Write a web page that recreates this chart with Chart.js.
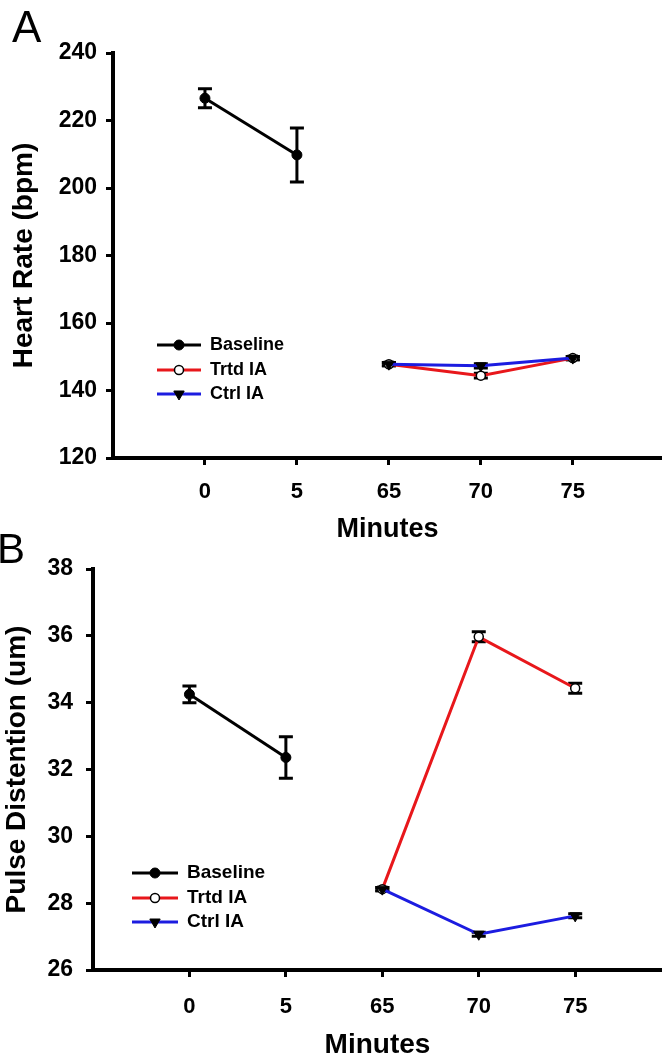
<!DOCTYPE html>
<html>
<head>
<meta charset="utf-8">
<script src="https://cdn.jsdelivr.net/npm/chart.js@4.4.1/dist/chart.umd.min.js"></script>
<style>
  body { margin: 0; background: #fff; width: 662px; height: 1057px; position: relative; overflow: hidden;
         font-family: "Liberation Sans", Arial, sans-serif; }
  canvas { position: absolute; left: 0; }
  .panel { position: absolute; font-size: 44px; line-height: 1; color: #000; }
</style>
</head>
<body>
<canvas id="hrChart" width="662" height="543" style="top:0"></canvas>
<canvas id="pdChart" width="662" height="519" style="top:540px"></canvas>
<div class="panel" style="left:12px;top:5px">A</div>
<div class="panel" style="left:-3px;top:528px;font-size:42px">B</div>
<script>
const minutes = ['0', '5', '65', '70', '75'];

// Panel A - heart rate (bpm)
const hrBaseline    = [226.6, 209.8, null, null, null];
const hrBaselineErr = [2.8, 8.0, null, null, null];
const hrTrtd        = [null, null, 147.8, 144.4, 149.6];
const hrTrtdErr     = [null, null, 0.5, 0.7, 0.5];
const hrCtrl        = [null, null, 147.8, 147.3, 149.6];
const hrCtrlErr     = [null, null, 0.5, 0.6, 0.5];

// Panel B - pulse distention (um)
const pdBaseline    = [34.25, 32.36, null, null, null];
const pdBaselineErr = [0.25, 0.62, null, null, null];
const pdTrtd        = [null, null, 28.42, 35.97, 34.43];
const pdTrtdErr     = [null, null, 0.05, 0.15, 0.15];
const pdCtrl        = [null, null, 28.42, 27.07, 27.62];
const pdCtrlErr     = [null, null, 0.05, 0.06, 0.06];

const FONT = '"Liberation Sans", Arial, sans-serif';
const RED = '#e8171b';
const BLUE = '#1c1ce0';

function toPoints(arr) {
    return arr.map((v, i) => ({ x: i, y: v })).filter(p => p.y !== null);
}

// error bars with caps, drawn under the markers
const errorBars = {
    id: 'errorBars',
    beforeDatasetsDraw(chart) {
        const ctx = chart.ctx;
        const y = chart.scales.y;
        ctx.save();
        ctx.strokeStyle = '#000';
        ctx.lineWidth = 3;
        chart.data.datasets.forEach((ds, i) => {
            const meta = chart.getDatasetMeta(i);
            ds.data.forEach((p, j) => {
                const err = ds.errors[p.x];
                if (!err) return;
                const px = meta.data[j].x;
                const top = y.getPixelForValue(p.y + err);
                const bot = y.getPixelForValue(p.y - err);
                ctx.beginPath();
                ctx.moveTo(px, top); ctx.lineTo(px, bot);
                ctx.moveTo(px - 7, top); ctx.lineTo(px + 7, top);
                ctx.moveTo(px - 7, bot); ctx.lineTo(px + 7, bot);
                ctx.stroke();
            });
        });
        ctx.restore();
    }
};

// legend: line with marker in the middle, then label
const lineLegend = {
    id: 'lineLegend',
    afterDraw(chart, args, opts) {
        const ctx = chart.ctx;
        ctx.save();
        ctx.font = 'bold ' + opts.size + 'px ' + FONT;
        ctx.textBaseline = 'middle';
        chart.data.datasets.forEach((ds, i) => {
            const y = opts.rows[i];
            ctx.strokeStyle = ds.borderColor;
            ctx.lineWidth = 3;
            ctx.beginPath();
            ctx.moveTo(opts.x1, y);
            ctx.lineTo(opts.x2, y);
            ctx.stroke();
            ctx.fillStyle = ds.pointBackgroundColor;
            ctx.strokeStyle = ds.pointBorderColor;
            ctx.lineWidth = ds.pointBorderWidth;
            Chart.helpers.drawPoint(ctx, {
                pointStyle: ds.pointStyle,
                radius: ds.pointRadius,
                rotation: ds.pointRotation,
                borderWidth: ds.pointBorderWidth
            }, (opts.x1 + opts.x2) / 2, y);
            ctx.fillStyle = '#000';
            ctx.fillText(ds.label, opts.textX, y);
        });
        ctx.restore();
    }
};

function makeDatasets(base, baseErr, trtd, trtdErr, ctrl, ctrlErr) {
    return [
        {
            label: 'Baseline', data: toPoints(base), errors: baseErr, order: 0,
            borderColor: '#000', borderWidth: 3,
            pointStyle: 'circle', pointRadius: 5, pointRotation: 0,
            pointBackgroundColor: '#000', pointBorderColor: '#000', pointBorderWidth: 1
        },
        {
            label: 'Trtd IA', data: toPoints(trtd), errors: trtdErr, order: 2,
            borderColor: RED, borderWidth: 3,
            pointStyle: 'circle', pointRadius: 4.5, pointRotation: 0,
            pointBackgroundColor: '#fff', pointBorderColor: '#000', pointBorderWidth: 1.5
        },
        {
            label: 'Ctrl IA', data: toPoints(ctrl), errors: ctrlErr, order: 1,
            borderColor: BLUE, borderWidth: 3,
            pointStyle: 'triangle', pointRadius: 6, pointRotation: 180,
            pointBackgroundColor: '#000', pointBorderColor: '#000', pointBorderWidth: 1
        }
    ];
}

function makeChart(id, datasets, p) {
    return new Chart(document.getElementById(id), {
        type: 'line',
        data: { datasets: datasets },
        plugins: [errorBars, lineLegend],
        options: {
            responsive: false,
            animation: false,
            layout: { autoPadding: false, padding: { top: p.top, left: 0, right: 0, bottom: 0 } },
            elements: { line: { tension: 0 } },
            scales: {
                x: {
                    type: 'linear',
                    min: -1,
                    max: p.xMax,
                    afterBuildTicks: s => { s.ticks = minutes.map((m, i) => ({ value: i })); },
                    afterFit: s => { s.height = p.xHeight; },
                    ticks: {
                        callback: v => minutes[v],
                        color: '#000',
                        font: { family: FONT, size: 22, weight: 'bold' },
                        padding: p.xPad,
                        autoSkip: false,
                        maxRotation: 0
                    },
                    grid: { drawOnChartArea: false, color: '#000', lineWidth: 3, tickLength: 7 },
                    border: { color: '#000', width: 4 },
                    title: {
                        display: true, text: 'Minutes', color: '#000',
                        font: { family: FONT, size: p.xTitleSize, weight: 'bold', lineHeight: 1 },
                        padding: { top: 0, bottom: 0 }
                    }
                },
                y: {
                    min: p.yMin,
                    max: p.yMax,
                    afterFit: s => { s.width = p.yWidth; },
                    ticks: {
                        stepSize: p.yStep,
                        color: '#000',
                        font: { family: FONT, size: 23, weight: 'bold' },
                        padding: p.yPad
                    },
                    grid: { drawOnChartArea: false, color: '#000', lineWidth: 3, tickLength: 7 },
                    border: { color: '#000', width: 4 },
                    title: {
                        display: true, text: p.yTitle, color: '#000',
                        font: { family: FONT, size: 28, weight: 'bold', lineHeight: 1 },
                        padding: { top: p.yTitlePad, bottom: 0 }
                    }
                }
            },
            plugins: {
                legend: { display: false },
                tooltip: { enabled: false },
                lineLegend: p.legend
            }
        }
    });
}

makeChart('hrChart',
    makeDatasets(hrBaseline, hrBaselineErr, hrTrtd, hrTrtdErr, hrCtrl, hrCtrlErr), {
    top: 53, xMax: 4.97, xHeight: 85, xPad: 14, xTitleSize: 27,
    yMin: 120, yMax: 240, yStep: 20, yWidth: 113, yPad: 9,
    yTitle: 'Heart Rate (bpm)', yTitlePad: 10,
    legend: { x1: 157, x2: 201, textX: 210, rows: [345, 370, 394], size: 18 }
});

makeChart('pdChart',
    makeDatasets(pdBaseline, pdBaselineErr, pdTrtd, pdTrtdErr, pdCtrl, pdCtrlErr), {
    top: 29, xMax: 4.9, xHeight: 89, xPad: 17, xTitleSize: 28,
    yMin: 26, yMax: 38, yStep: 2, yWidth: 93, yPad: 13,
    yTitle: 'Pulse Distention (um)', yTitlePad: 3,
    legend: { x1: 132, x2: 178, textX: 187, rows: [333, 358, 382], size: 19 }
});
</script>
</body>
</html>
